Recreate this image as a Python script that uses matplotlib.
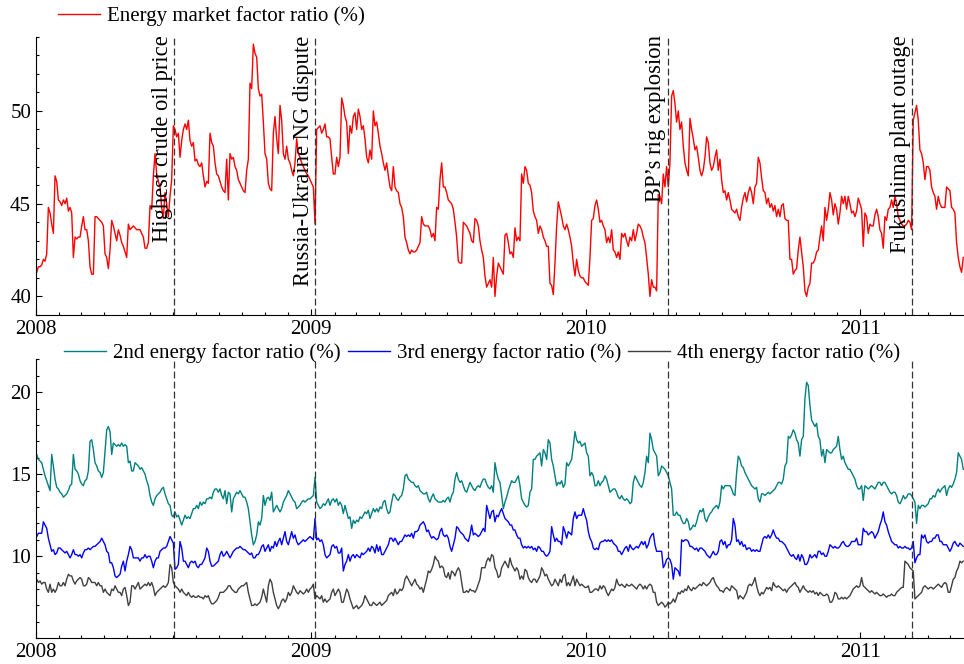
import numpy as np
import pandas as pd
import matplotlib
matplotlib.use("Agg")
import matplotlib.pyplot as plt
import matplotlib.dates as mdates
from matplotlib.ticker import MultipleLocator, FixedLocator

# energy market factor ratio (%), top panel
energy = [
    41.3, 41.6, 41.6, 41.7, 42.0, 41.9, 42.3, 44.8, 44.5, 43.9, 43.4, 46.5, 46.2, 45.2, 45.1, 44.9, 45.2, 45.0, 45.3, 44.6,
    44.8, 44.5, 42.1, 43.2, 43.1, 43.2, 43.2, 43.8, 44.3, 43.6, 43.6, 43.0, 41.6, 41.2, 41.2, 44.3, 44.3, 44.2, 44.1, 44.0,
    43.8, 42.3, 42.1, 41.5, 42.5, 44.1, 43.8, 43.4, 43.0, 43.6, 43.3, 42.9, 42.7, 42.4, 42.1, 43.9, 43.6, 43.7, 43.8, 43.7,
    43.6, 43.6, 43.6, 43.4, 43.2, 42.6, 42.6, 42.9, 44.9, 44.7, 46.5, 47.7, 46.6, 46.2, 45.9, 44.8, 44.2, 45.6, 45.0, 44.3,
    45.4, 46.3, 49.2, 49.0, 48.6, 48.8, 47.5, 48.4, 49.0, 49.3, 49.0, 49.5, 48.4, 48.1, 48.3, 47.3, 47.4, 47.1, 47.0, 47.2,
    46.5, 45.9, 46.2, 46.1, 48.8, 48.3, 48.1, 47.2, 46.6, 46.5, 46.2, 45.9, 45.7, 45.6, 47.4, 45.2, 47.7, 47.4, 47.5, 47.0,
    46.8, 46.3, 46.1, 45.9, 45.7, 45.6, 46.8, 47.4,
    51.5, 51.2, 53.6, 53.1, 52.9, 51.2, 50.8, 50.9, 49.4, 47.7, 47.4, 46.1, 45.8, 45.7, 48.8, 49.7, 48.5, 47.7, 50.3, 49.5,
    47.7, 47.4, 48.1, 47.4, 47.2, 46.8, 46.5, 47.2, 48.5, 47.7, 47.5, 47.2, 47.0, 46.8, 46.6, 46.5, 46.3, 46.1, 45.9, 43.9,
    49.0, 49.1, 49.2, 48.8, 49.0, 49.3, 48.6, 48.6, 48.5, 47.5, 46.6, 46.6, 47.5, 47.0, 47.5, 50.7, 50.3, 49.7, 49.4, 47.7,
    49.2, 48.8, 49.7, 49.9, 49.0, 50.1, 49.7, 49.0, 49.2, 48.5, 47.5, 47.2, 47.9, 47.4, 50.0, 49.2, 49.4, 48.8, 48.1, 47.7,
    47.2, 46.8, 47.2, 46.5, 45.9, 45.7, 47.0, 45.9, 45.7, 45.6, 45.0, 44.8, 44.3, 43.2, 42.9, 42.5, 42.3, 42.5, 42.4, 42.4,
    42.5, 42.7, 42.9, 44.3, 43.9, 43.8, 43.8, 43.8, 43.6, 43.2, 43.4, 43.0, 44.8, 44.7, 46.3, 47.2, 45.9, 45.9, 45.6, 45.2,
    45.1, 45.0, 44.7, 44.0, 43.2, 41.9, 41.8, 41.8, 44.0, 43.9, 43.8, 43.6, 43.4, 43.0, 42.9, 44.2, 44.1, 43.8, 43.0, 42.5,
    42.1, 41.1, 40.5, 40.7,
    40.9, 40.5, 42.1, 40.0, 41.1, 41.8, 41.6, 41.4, 41.2, 43.3, 43.4, 42.9, 42.3, 42.4, 42.1, 43.7, 43.0, 43.2, 43.0, 46.6,
    46.1, 47.0, 46.8, 46.1, 46.0, 45.6, 44.6, 44.3, 44.1, 43.4, 43.8, 43.6, 43.2, 43.0, 42.7, 42.7, 40.7, 40.6, 40.1, 41.8,
    43.8, 45.1, 44.7, 44.3, 43.8, 43.6, 43.9, 43.6, 43.2, 42.7, 41.8, 41.1, 42.0, 41.4, 41.1, 41.0, 41.0, 40.8, 40.7, 40.6,
    42.1, 44.1, 44.2, 44.9, 45.2, 44.7, 44.0, 44.1, 43.8, 43.6, 42.9, 43.2, 42.9, 43.6, 42.5, 42.4, 42.1, 42.4, 42.0, 43.4,
    43.2, 43.4, 43.0, 42.7, 43.2, 43.0, 43.6, 43.0, 43.4, 43.9, 43.8, 43.6, 43.2, 42.9, 42.1, 41.2, 40.0, 40.9, 40.5, 40.5,
    40.3, 45.5, 45.4, 45.0, 46.6, 45.9, 47.0, 45.9, 47.2, 50.8, 51.1, 50.4, 49.4, 50.0, 49.0, 49.4, 48.1, 47.2, 46.8, 46.5,
    49.6, 49.0, 48.5, 47.9, 48.1, 47.5, 46.8, 46.5, 46.8, 47.5, 48.6, 48.3, 47.2, 46.8, 47.0, 47.5, 47.9, 46.8, 47.4, 46.3,
    45.6, 45.7, 45.2, 45.6,
    45.2, 44.7, 44.6, 44.5, 44.7, 44.3, 44.1, 44.8, 45.3, 45.6, 45.1, 45.6, 45.9, 45.6, 45.0, 45.9, 46.1, 47.5, 47.2, 46.4,
    45.7, 45.6, 45.0, 45.3, 44.8, 45.0, 44.6, 44.9, 44.3, 44.7, 44.3, 44.9, 45.0, 44.2, 44.1, 44.1, 42.0, 42.0, 41.2, 41.4,
    41.5, 42.5, 43.2, 42.4, 41.6, 40.3, 40.0, 40.5, 40.7, 41.8, 41.8, 42.0, 42.4, 42.5, 43.2, 43.8, 43.0, 44.8, 44.1, 44.7,
    45.6, 45.2, 44.4, 45.0, 44.7, 43.9, 44.5, 45.4, 45.0, 45.4, 44.7, 45.4, 45.0, 44.5, 44.6, 44.3, 44.6, 45.3, 45.0, 44.7,
    42.7, 44.5, 44.3, 43.4, 43.9, 43.8, 43.8, 44.4, 44.7, 44.3, 43.6, 43.4, 42.6, 44.3, 44.1, 44.7, 44.8, 45.2, 44.8, 45.4,
    45.0, 44.3, 44.1, 43.9, 43.8, 43.8, 43.9, 44.1, 44.0, 43.6, 49.5, 49.9, 50.3, 49.5, 47.9, 47.7, 47.2, 46.3, 47.0, 47.0,
    46.8, 45.9, 45.6, 45.4, 44.7, 45.4, 45.0, 44.8, 44.8, 44.8, 45.9, 45.8, 45.7, 44.8, 44.7, 44.5, 42.9, 42.1, 41.6, 41.3,
    42.1,
]

# 2nd energy factor ratio (%)
second = [
    16.2, 15.9, 15.8, 15.7, 15.3, 14.9, 14.6, 14.3, 14.0, 16.2, 15.5, 14.7, 14.2, 14.1, 13.9, 13.8, 13.6, 13.7, 13.8, 14.0,
    14.3, 14.4, 16.2, 15.3, 15.2, 15.0, 14.6, 14.4, 14.3, 14.6, 14.7, 15.2, 17.0, 17.1, 16.5, 15.7, 15.5, 15.2, 15.1, 14.8,
    15.1, 16.4, 17.7, 17.9, 17.6, 16.2, 16.9, 16.8, 16.7, 16.8, 16.7, 16.9, 16.7, 16.8, 16.7, 15.7, 15.8, 15.2, 15.2, 15.7,
    15.6, 15.5, 15.3, 15.4, 15.2, 15.0, 14.6, 14.3, 13.7, 13.3, 13.1, 13.5, 13.7, 13.8, 13.9, 14.1, 14.2, 13.8, 13.5, 13.2,
    13.1, 12.5, 12.4, 12.7, 12.4, 12.5, 12.2, 11.9, 12.2, 12.5, 12.3, 12.4, 12.3, 12.6, 12.9, 12.9, 13.1, 12.9, 13.3, 13.1,
    13.3, 13.2, 13.5, 13.5, 13.6, 13.5, 13.9, 14.1, 14.1, 13.9, 14.1, 13.7, 13.5, 14.0, 13.2, 13.9, 13.8, 12.7, 13.5, 13.7,
    13.9, 13.8, 14.0, 13.8, 13.6, 13.6, 13.3, 12.9, 12.1, 11.3, 10.7, 10.9, 11.3, 12.1,
    11.9, 12.3, 13.7, 13.1, 13.5, 13.6, 13.4, 13.9, 12.7, 12.9, 13.1, 12.9, 12.7, 12.9, 13.3, 13.5, 13.7, 14.0, 13.8, 13.6,
    13.4, 13.3, 12.9, 13.0, 13.1, 13.3, 13.4, 13.3, 13.4, 13.5, 13.5, 13.6, 13.7, 14.8, 13.3, 13.1, 12.9, 13.0, 13.2, 13.1,
    13.3, 13.5, 13.1, 13.4, 13.5, 13.3, 13.5, 13.1, 13.3, 13.1, 12.6, 13.1, 12.7, 12.3, 12.4, 11.7, 12.2, 12.0, 12.2, 12.1,
    12.4, 12.3, 12.5, 12.7, 12.6, 12.8, 12.3, 12.6, 12.9, 12.7, 12.9, 12.7, 13.0, 12.9, 13.3, 13.4, 12.9, 12.6, 12.7, 13.3,
    13.8, 13.7, 13.5, 13.4, 13.6, 13.7, 14.1, 14.9, 15.0, 14.7, 14.6, 14.5, 14.5, 14.3, 14.2, 14.3, 14.0, 13.9, 13.8, 13.8,
    13.9, 13.5, 13.3, 13.6, 13.8, 13.5, 13.4, 13.3, 13.3, 13.3, 13.4, 13.3, 13.5, 13.6, 13.3, 13.7, 13.9, 14.7, 15.1, 14.7,
    14.5, 14.6, 14.3, 14.0, 13.9, 14.2, 14.5, 14.3, 14.1, 14.0, 14.2, 14.3, 14.2, 14.5, 14.7, 14.7, 14.4, 14.2,
    14.1, 14.3, 13.9, 15.7, 15.1, 14.7, 14.5, 13.7, 12.9, 13.3, 13.6, 14.0, 14.3, 14.6, 14.5, 14.5, 14.7, 14.9, 14.3, 13.5,
    13.3, 13.1, 13.0, 13.1, 13.9, 14.1, 15.9, 15.9, 16.1, 16.2, 16.3, 15.5, 16.5, 16.3, 15.9, 17.1, 16.9, 15.9, 15.5, 14.9,
    14.3, 14.5, 14.4, 14.6, 14.2, 14.4, 15.7, 15.5, 15.7, 15.9, 16.7, 17.6, 17.1, 16.9, 17.0, 16.7, 16.8, 16.9, 16.3, 16.1,
    14.9, 15.1, 14.9, 14.3, 14.3, 14.6, 14.3, 14.5, 14.6, 14.9, 14.7, 14.3, 13.9, 14.0, 14.1, 14.1, 13.9, 13.6, 13.5, 13.7,
    13.5, 13.4, 13.5, 13.4, 13.2, 13.3, 14.5, 14.9, 14.7, 14.5, 14.3, 14.2, 14.5, 15.1, 16.1, 15.7, 17.5, 17.1, 16.5, 16.3,
    16.1, 14.9, 15.1, 15.5, 15.4, 15.3, 15.1, 14.9, 14.5, 14.1, 12.5, 12.5, 12.7, 12.5, 12.5, 12.2, 12.0, 12.0, 12.3, 12.1,
    11.6, 11.7, 11.9, 11.8, 12.1, 12.5, 12.8, 12.7, 12.9, 12.3, 12.1, 12.4, 12.6, 12.7, 12.9, 13.0, 13.1, 12.9, 13.3, 14.3,
    14.1, 14.3, 14.3, 14.3,
    14.3, 14.1, 13.8, 13.7, 15.1, 16.1, 15.9, 15.5, 15.4, 15.1, 14.9, 14.7, 14.5, 14.3, 14.2, 14.1, 14.2, 13.5, 13.3, 13.8,
    13.8, 13.7, 13.8, 13.9, 13.8, 13.9, 14.0, 14.1, 14.3, 14.5, 14.5, 14.4, 14.7, 15.5, 15.7, 17.3, 17.2, 17.4, 17.7, 17.5,
    17.1, 16.9, 16.1, 17.1, 17.3, 19.6, 20.6, 20.4, 19.2, 18.3, 18.1, 17.9, 18.1, 17.3, 17.1, 16.1, 16.5, 15.7, 16.5, 16.4,
    16.3, 16.3, 16.5, 16.6, 16.7, 17.3, 16.5, 15.9, 16.1, 15.7, 15.5, 15.3, 15.3, 15.1, 14.9, 14.7, 14.3, 14.1, 14.1, 14.3,
    13.4, 14.3, 14.2, 14.1, 14.2, 14.3, 14.2, 14.1, 14.3, 14.5, 14.5, 14.3, 14.5, 14.5, 14.3, 14.1, 13.9, 13.8, 13.9, 13.9,
    13.7, 13.3, 13.2, 13.4, 13.7, 13.5, 13.6, 13.8, 13.8, 13.7, 13.5, 13.3, 12.0, 13.1, 12.9, 13.1, 13.1, 13.0, 13.1, 13.2,
    13.5, 13.5, 13.7, 13.6, 13.9, 14.1, 13.9, 14.1, 14.2, 14.3, 13.7, 14.1, 14.3, 14.2, 14.4, 14.7, 15.1, 16.3, 16.1, 15.9,
    15.3,
]

# 3rd energy factor ratio (%)
third = [
    11.2, 11.4, 11.4, 11.4, 12.1, 11.9, 11.7, 11.1, 10.7, 10.3, 10.4, 10.1, 10.2, 10.5, 10.5, 10.4, 10.3, 10.2, 10.3, 10.1,
    9.9, 10.1, 10.4, 10.1, 10.1, 10.0, 10.1, 9.9, 10.2, 10.4, 10.4, 10.5, 10.4, 10.5, 10.6, 10.6, 10.7, 10.8, 10.9, 11.1,
    10.9, 10.7, 10.3, 10.2, 9.6, 9.6, 9.3, 8.8, 8.7, 8.8, 8.9, 9.4, 9.7, 9.1, 9.7, 10.1, 10.6, 10.4, 9.9, 9.9,
    9.9, 9.9, 9.7, 9.9, 9.9, 10.1, 9.9, 10.0, 10.0, 9.7, 9.3, 9.7, 9.9, 9.9, 10.3, 10.4, 10.5, 10.5, 10.6, 10.9,
    11.2, 11.0, 10.8, 9.2, 9.3, 9.5, 10.9, 10.5, 9.7, 9.7, 9.5, 9.3, 9.6, 9.7, 9.6, 9.7, 9.4, 9.3, 9.5, 9.5,
    9.7, 9.9, 10.5, 10.3, 9.7, 9.4, 9.4, 9.5, 9.6, 9.7, 10.1, 10.3, 10.0, 10.1, 10.3, 10.1, 9.9, 10.1, 10.3, 10.4,
    10.5, 10.5, 10.6, 10.5, 10.4, 10.4, 10.3, 10.2, 10.1, 10.2, 9.9, 9.9, 10.1, 10.1,
    10.3, 10.6, 10.7, 10.3, 10.5, 10.7, 10.3, 10.6, 10.5, 10.9, 10.6, 10.9, 11.1, 10.7, 11.1, 11.5, 10.9, 10.7, 11.1, 11.5,
    11.1, 11.3, 10.9, 10.7, 10.8, 10.9, 11.0, 10.9, 11.0, 11.1, 11.2, 11.1, 11.0, 12.3, 11.0, 11.1, 10.9, 11.0, 10.7, 10.1,
    9.9, 10.0, 10.1, 10.6, 10.7, 10.5, 10.6, 10.2, 10.2, 10.5, 9.1, 9.5, 9.7, 10.1, 9.7, 10.0, 10.1, 9.9, 10.1, 10.0,
    9.9, 10.2, 10.1, 10.2, 10.3, 10.5, 10.3, 10.6, 10.5, 10.2, 10.7, 10.3, 10.6, 10.1, 10.1, 10.3, 10.5, 10.7, 11.1, 11.1,
    10.9, 11.1, 10.9, 10.7, 10.9, 10.9, 11.1, 11.3, 11.2, 11.3, 11.2, 11.4, 11.1, 11.5, 11.5, 11.6, 11.9, 12.0, 12.1, 11.9,
    11.5, 11.6, 11.3, 11.1, 11.2, 11.1, 11.0, 11.1, 11.5, 11.7, 11.3, 11.2, 11.3, 11.1, 10.6, 10.3, 10.7, 11.1, 11.8, 11.7,
    11.5, 11.4, 11.3, 11.1, 11.0, 10.9, 11.3, 11.9, 11.3, 11.4, 11.3, 11.2, 11.3, 11.5, 11.7, 11.5, 13.1, 12.7,
    12.3, 12.7, 12.8, 12.1, 12.5, 12.4, 12.7, 12.9, 12.6, 12.3, 12.2, 12.1, 11.9, 11.9, 11.6, 11.6, 11.3, 11.1, 11.1, 10.7,
    10.5, 10.6, 10.5, 10.6, 10.5, 10.6, 10.4, 10.5, 10.3, 10.6, 10.5, 10.3, 10.3, 10.1, 10.0, 10.1, 10.3, 11.8, 11.3, 10.9,
    11.1, 10.9, 10.9, 10.7, 11.8, 11.5, 11.1, 11.5, 11.4, 11.3, 12.3, 12.7, 12.3, 12.5, 12.5, 12.5, 12.9, 12.5, 12.2, 11.5,
    11.1, 10.9, 10.5, 10.4, 10.5, 10.4, 10.8, 10.9, 10.9, 11.0, 10.9, 11.0, 10.9, 11.0, 10.8, 10.7, 10.6, 10.3, 10.3, 10.1,
    10.3, 10.5, 10.6, 10.3, 10.7, 10.5, 10.4, 10.5, 10.6, 10.5, 10.7, 10.9, 10.7, 10.9, 10.5, 10.7, 11.1, 11.3, 11.4, 10.7,
    10.3, 10.3, 10.3, 10.3, 9.3, 9.5, 9.8, 9.9, 9.8, 9.5, 8.6, 9.3, 9.2, 9.1, 8.8, 11.0, 10.9, 11.0, 11.0, 10.9,
    10.6, 10.6, 10.5, 10.4, 10.5, 10.3, 10.5, 10.5, 10.4, 10.3, 10.1, 10.0, 9.9, 10.1, 10.3, 10.1, 10.1, 10.3, 10.9, 11.0,
    10.7, 10.9, 10.5, 10.7,
    10.7, 11.0, 12.3, 11.9, 10.9, 11.0, 10.7, 10.9, 10.6, 10.7, 10.4, 10.5, 10.5, 10.3, 10.4, 10.3, 10.4, 10.3, 10.3, 10.7,
    11.1, 11.2, 11.1, 11.3, 11.1, 11.3, 11.6, 11.3, 11.1, 11.1, 10.9, 10.9, 10.8, 10.7, 10.5, 10.3, 10.1, 10.0, 10.1, 9.9,
    9.8, 10.1, 9.7, 10.1, 9.9, 9.5, 9.5, 9.7, 10.1, 9.9, 10.0, 10.1, 9.9, 10.3, 10.3, 10.1, 10.2, 10.0, 10.0, 10.3,
    10.7, 10.6, 10.5, 10.6, 10.5, 10.5, 10.6, 10.8, 10.9, 10.7, 10.6, 10.6, 10.7, 10.9, 10.9, 10.9, 11.1, 10.7, 10.7, 10.7,
    11.7, 11.5, 11.5, 11.3, 11.4, 11.5, 11.4, 11.1, 11.3, 11.5, 11.9, 12.2, 12.7, 12.1, 11.9, 11.5, 11.2, 10.9, 10.8, 10.7,
    10.7, 10.5, 10.6, 10.5, 10.5, 10.6, 10.5, 10.5, 10.4, 10.5, 10.9, 9.6, 9.9, 10.1, 10.1, 11.3, 11.1, 11.3, 10.9, 10.8,
    10.9, 10.9, 11.1, 11.1, 11.3, 11.3, 10.9, 10.9, 10.7, 10.7, 10.7, 10.5, 10.3, 10.5, 10.8, 10.9, 10.7, 10.6, 10.8, 10.7,
    10.6,
]

# 4th energy factor ratio (%)
fourth = [
    8.6, 8.4, 8.5, 8.3, 8.4, 8.4, 8.0, 7.8, 8.3, 7.8, 8.0, 7.8, 8.0, 8.4, 8.2, 8.2, 8.4, 8.2, 8.6, 8.9,
    8.8, 8.8, 8.5, 8.3, 8.5, 8.6, 8.7, 8.6, 8.2, 8.2, 8.3, 8.7, 8.6, 8.4, 8.4, 8.4, 8.2, 8.4, 8.2, 8.2,
    7.8, 8.0, 7.8, 7.7, 7.6, 8.0, 7.9, 8.2, 8.0, 7.8, 7.8, 7.6, 8.0, 8.1, 7.6, 7.0, 7.2, 8.2, 8.2, 8.0,
    8.2, 8.4, 8.0, 8.1, 8.2, 8.3, 8.2, 8.4, 8.2, 8.4, 8.1, 7.6, 7.8, 7.9, 8.0, 8.1, 8.2, 8.1, 8.2, 8.4,
    9.5, 9.3, 8.4, 8.2, 8.1, 8.0, 7.8, 8.0, 7.8, 7.7, 7.6, 7.8, 7.6, 7.5, 7.6, 7.5, 7.5, 7.6, 7.5, 7.5,
    7.4, 7.6, 7.5, 7.6, 7.3, 7.1, 7.1, 7.2, 7.3, 7.5, 7.8, 7.8, 7.8, 7.9, 8.0, 8.2, 8.2, 8.0, 7.9, 7.8,
    7.8, 8.0, 8.1, 8.2, 8.2, 8.3, 8.4, 7.8, 7.4, 7.0, 7.0, 7.1, 7.0, 7.1,
    7.2, 7.5, 8.0, 7.6, 7.2, 8.2, 8.6, 8.4, 7.8, 7.4, 7.0, 6.8, 7.0, 7.3, 7.4, 7.2, 7.4, 7.8, 7.6, 7.8,
    8.2, 8.0, 7.8, 7.7, 7.9, 7.8, 7.7, 7.8, 8.0, 7.8, 8.0, 8.1, 8.3, 7.4, 7.6, 7.5, 7.4, 7.6, 7.2, 7.4,
    7.2, 7.3, 7.4, 7.8, 8.0, 7.6, 7.8, 8.0, 7.8, 7.2, 7.2, 7.6, 8.0, 7.8, 7.4, 7.1, 6.8, 6.9, 7.0, 6.8,
    6.9, 7.0, 7.2, 7.6, 7.4, 7.2, 7.0, 7.0, 7.2, 7.1, 7.0, 7.1, 7.2, 7.0, 7.1, 7.2, 7.3, 7.6, 7.7, 7.8,
    7.6, 8.0, 7.7, 7.8, 8.0, 7.9, 8.1, 8.6, 8.8, 8.6, 8.4, 8.2, 8.4, 8.6, 8.3, 8.2, 8.0, 8.1, 7.8, 8.2,
    8.6, 9.1, 9.0, 9.2, 9.5, 10.0, 9.8, 9.7, 9.3, 9.4, 9.3, 8.8, 8.7, 9.0, 8.6, 9.1, 9.0, 8.8, 9.1, 9.3,
    9.1, 8.4, 7.8, 7.8, 7.9, 7.8, 8.0, 7.9, 7.9, 7.8, 8.0, 8.3, 8.6, 9.3, 9.3, 9.3, 9.7, 9.9,
    9.7, 10.1, 10.0, 9.3, 9.1, 8.7, 8.8, 9.3, 9.5, 9.7, 9.5, 9.3, 9.9, 9.5, 9.3, 9.1, 9.3, 9.1, 8.6, 8.8,
    8.6, 9.2, 9.1, 8.7, 8.5, 8.4, 8.6, 8.6, 8.4, 8.6, 8.8, 9.3, 9.1, 8.8, 8.9, 8.6, 8.4, 8.2, 8.3, 8.6,
    8.4, 8.2, 8.6, 8.4, 8.8, 8.9, 8.2, 8.4, 8.2, 8.5, 8.8, 8.2, 8.6, 8.4, 8.2, 8.3, 8.2, 8.1, 8.1, 8.2,
    7.8, 7.8, 7.9, 8.0, 8.0, 7.9, 8.2, 8.0, 8.2, 8.1, 7.8, 7.6, 7.8, 8.0, 7.9, 8.1, 8.6, 8.3, 8.2, 8.3,
    8.2, 8.1, 8.3, 8.2, 8.2, 8.3, 8.2, 8.1, 8.0, 8.2, 8.3, 8.2, 8.0, 8.2, 8.0, 8.2, 8.3, 8.2, 7.8, 7.8,
    7.2, 7.0, 7.1, 7.2, 7.1, 6.9, 7.0, 7.2, 7.1, 7.2, 7.4, 7.2, 7.5, 7.8, 7.7, 7.9, 7.8, 8.0, 7.9, 8.2,
    8.0, 7.9, 8.1, 8.0, 8.1, 8.2, 8.3, 8.2, 8.4, 8.3, 8.2, 8.3, 8.4, 8.6, 8.7, 8.4, 8.2, 8.1, 7.9, 7.9,
    7.8, 8.0, 8.1, 8.0,
    7.9, 8.2, 8.1, 8.0, 7.9, 7.4, 7.6, 7.5, 7.4, 7.6, 7.8, 8.2, 8.3, 8.2, 8.4, 8.7, 8.2, 7.8, 7.6, 7.8,
    7.7, 7.9, 8.1, 8.0, 8.1, 7.9, 8.4, 8.2, 8.1, 8.2, 8.1, 8.0, 7.9, 8.0, 7.8, 8.0, 8.1, 8.2, 8.3, 8.4,
    8.2, 8.1, 7.8, 8.0, 8.2, 8.0, 7.9, 7.8, 7.9, 7.8, 7.9, 7.7, 7.8, 7.6, 7.8, 7.7, 7.6, 7.6, 7.7, 7.6,
    7.2, 7.2, 7.4, 7.8, 7.7, 7.4, 7.4, 7.5, 7.4, 7.5, 7.4, 7.5, 7.6, 7.8, 8.0, 8.1, 8.2, 8.1, 8.2, 8.7,
    8.2, 8.1, 8.0, 7.9, 7.8, 7.9, 7.8, 7.7, 7.8, 7.7, 7.6, 7.6, 7.7, 7.6, 7.5, 7.6, 7.6, 7.7, 7.6, 7.6,
    7.8, 7.9, 8.0, 8.1, 8.1, 9.7, 9.6, 9.5, 9.3, 9.2, 9.1, 7.4, 7.5, 7.6, 7.7, 7.8, 8.1, 8.2, 8.1, 8.0,
    8.1, 8.1, 8.0, 8.1, 8.2, 8.3, 8.2, 8.1, 8.3, 8.4, 8.3, 7.8, 7.8, 8.2, 8.6, 8.7, 9.1, 9.3, 9.7, 9.6,
    9.7,
]

start_date = "2008-01-02"
end_date = "2011-05-18"

event_dates = ["2008-07-03", "2009-01-06", "2010-04-20", "2011-03-11"]
event_labels = ["Highest crude oil price", "Russia-Ukraine NG dispute",
                "BP\u2019s rig explosion", "Fukushima plant outage"]

plt.rcParams["font.family"] = ["Liberation Serif", "DejaVu Serif"]
plt.rcParams["font.size"] = 15

fig = plt.figure(figsize=(9.64, 6.64), dpi=100)
ax1 = fig.add_axes([0.0373, 0.5256, 0.9627, 0.4191])
ax2 = fig.add_axes([0.0373, 0.0387, 0.9627, 0.4202])

def dates_for(series):
    return pd.date_range(start_date, end_date, periods=len(series))

ax1.plot(dates_for(energy), energy, color="#ff0000", lw=1.0, label="Energy market factor ratio (%)")
ax2.plot(dates_for(second), second, color="#008080", lw=1.0, label="2nd energy factor ratio (%)")
ax2.plot(dates_for(third), third, color="#0000ff", lw=1.0, label="3rd energy factor ratio (%)")
ax2.plot(dates_for(fourth), fourth, color="#404040", lw=1.0, label="4th energy factor ratio (%)")

ax1.set_ylim(39, 54)
ax2.set_ylim(5, 22)
ax1.yaxis.set_major_locator(FixedLocator([40, 45, 50]))
ax2.yaxis.set_major_locator(FixedLocator([10, 15, 20]))

for ax in (ax1, ax2):
    ax.set_xlim(pd.Timestamp("2008-01-01"), pd.Timestamp("2011-05-19"))
    ax.spines["top"].set_visible(False)
    ax.spines["right"].set_visible(False)
    ax.xaxis.set_major_locator(mdates.YearLocator())
    ax.xaxis.set_minor_locator(mdates.MonthLocator())
    ax.xaxis.set_major_formatter(mdates.DateFormatter("%Y"))
    ax.yaxis.set_minor_locator(MultipleLocator(1))
    ax.tick_params(which="both", direction="in", top=False, right=False, width=0.8)
    ax.tick_params(which="major", length=4.5, pad=3.5)
    ax.tick_params(which="minor", length=2.5)
    for d in event_dates:
        ax.axvline(pd.Timestamp(d), color="#333333", lw=0.9, ls=(0, (5.5, 2.5)))

for d, lab in zip(event_dates, event_labels):
    x = mdates.date2num(pd.Timestamp(d))
    ax1.annotate(lab, xy=(x, 1.0), xycoords=("data", "axes fraction"),
                 xytext=(-1, 1), textcoords="offset points",
                 rotation=90, ha="right", va="top", fontsize=16.3)

ax1.legend(loc="center left", bbox_to_anchor=(58 / 964, 1 - 16 / 664), bbox_transform=fig.transFigure,
           frameon=False, borderpad=0, borderaxespad=0, handlelength=2.0, handletextpad=0.35)
ax2.legend(loc="center left", bbox_to_anchor=(64 / 964, 1 - 353 / 664), bbox_transform=fig.transFigure,
           frameon=False, borderpad=0, borderaxespad=0, handlelength=2.0, handletextpad=0.35,
           ncol=3, columnspacing=0.35)

fig.savefig("out.png", dpi=100)
